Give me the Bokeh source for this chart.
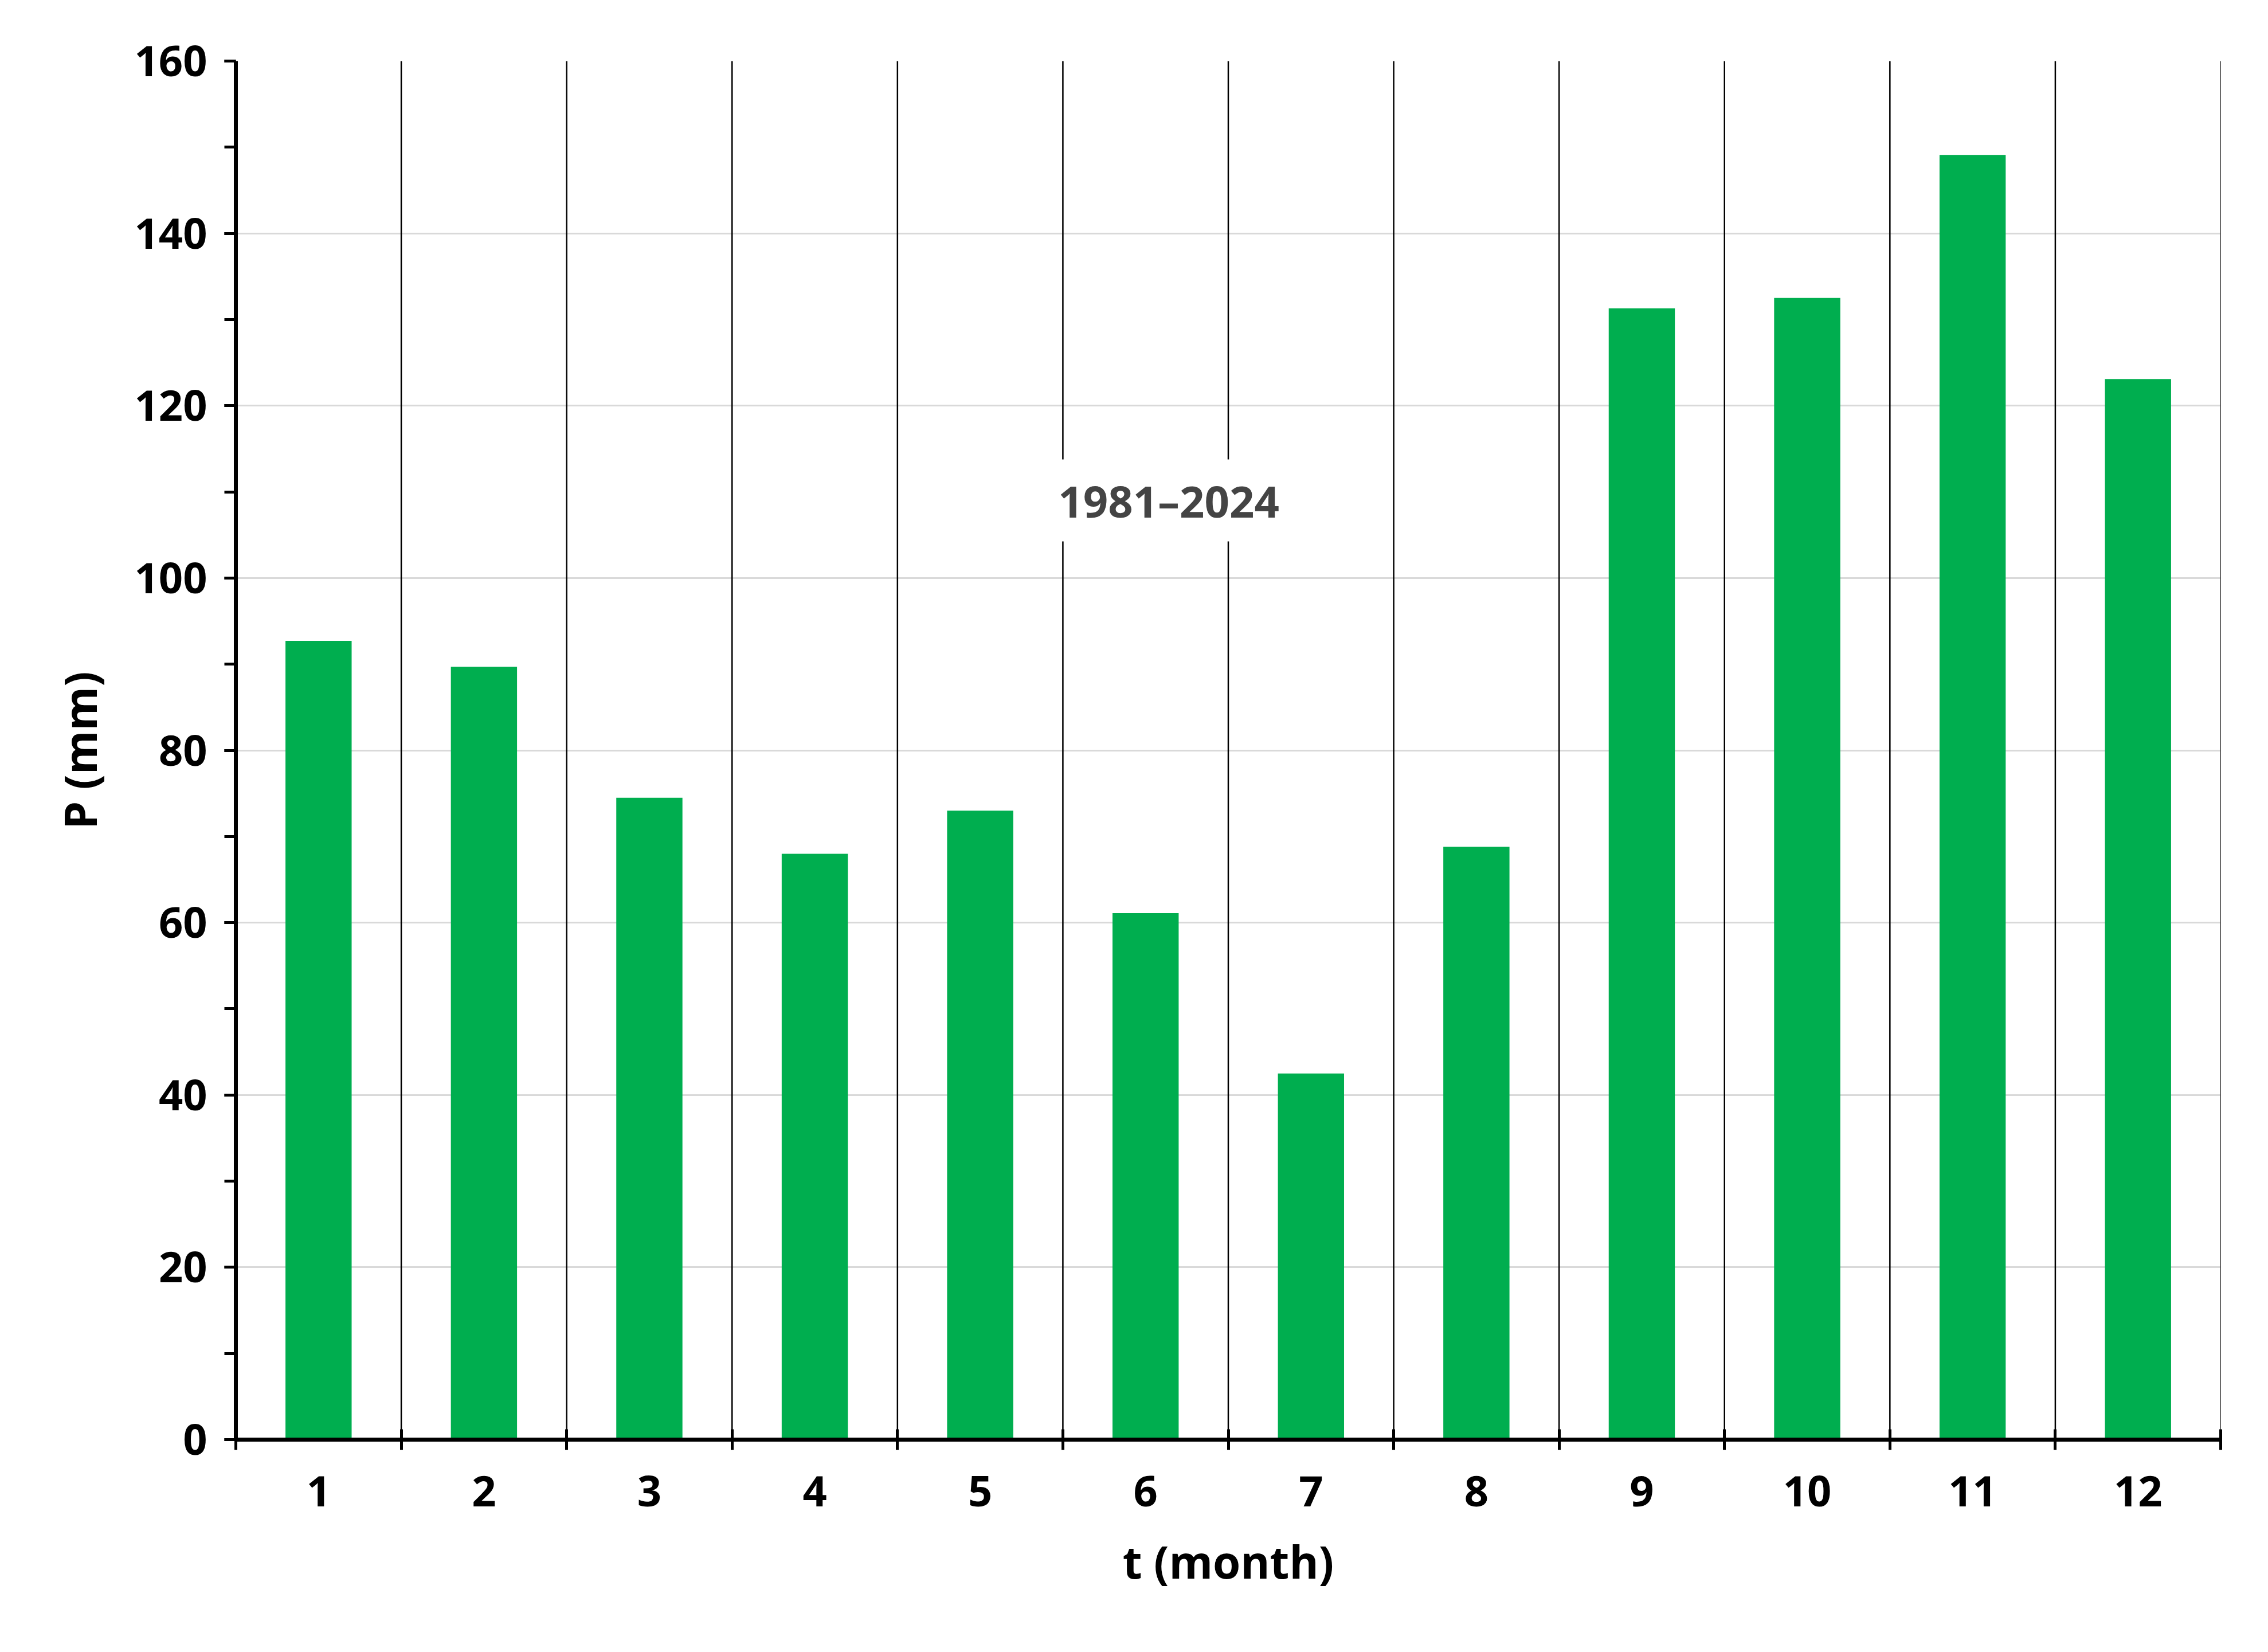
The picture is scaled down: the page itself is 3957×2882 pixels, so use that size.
from bokeh.plotting import figure
from bokeh.models import FixedTicker, Label, Range1d
from bokeh.embed import file_html
from bokeh.resources import INLINE

months = [1, 2, 3, 4, 5, 6, 7, 8, 9, 10, 11, 12]
precip = [92.7, 89.7, 74.5, 68.0, 73.0, 61.1, 42.5, 68.8, 131.3, 132.5, 149.1, 123.1]
y_ticks = [0, 20, 40, 60, 80, 100, 120, 140, 160]
period = "1981–2024"

W, H = 3935, 2860
p = figure(width=W, height=H, output_backend="svg", toolbar_location=None,
           x_range=Range1d(0.5, 12.5), y_range=Range1d(0, 160),
           min_border_left=411, min_border_right=61, min_border_top=106, min_border_bottom=349)
p.outline_line_color = None
p.background_fill_color = "white"

bounds = [m + 0.5 for m in months]
p.segment(x0=bounds, y0=[0]*12, x1=bounds, y1=[160]*12, line_color="black", line_width=2.5)
p.vbar(x=months, top=precip, width=0.4, fill_color="#00AE4F", line_color=None)

font = "Open Sans"
p.xaxis.ticker = FixedTicker(ticks=months, minor_ticks=[0.5] + bounds)
p.xaxis.major_tick_out = 0
p.xaxis.major_tick_in = 0
p.xaxis.minor_tick_out = 18
p.xaxis.minor_tick_in = 18
p.xaxis.minor_tick_line_width = 5
p.yaxis.ticker = FixedTicker(ticks=y_ticks, minor_ticks=list(range(0, 161, 10)))
p.yaxis.major_tick_out = 20
p.yaxis.major_tick_in = 0
p.yaxis.minor_tick_out = 20
p.yaxis.minor_tick_in = 0
p.yaxis.major_tick_line_width = 5
p.yaxis.minor_tick_line_width = 5
for ax in (p.xaxis, p.yaxis):
    ax.axis_line_width = 7
    ax.axis_line_color = "black"
    ax.major_label_text_font = font
    ax.major_label_text_font_style = "bold"
    ax.major_label_text_font_size = "74px"
    ax.major_label_text_color = "black"
    ax.axis_label_text_font = font
    ax.axis_label_text_font_style = "bold"
    ax.axis_label_text_font_size = "78px"
    ax.axis_label_text_color = "black"
p.xaxis.major_label_standoff = 45
p.yaxis.major_label_standoff = 30
p.xaxis.axis_label = "t (month)"
p.yaxis.axis_label = "P (mm)"
p.xaxis.axis_label_standoff = 40
p.yaxis.axis_label_standoff = 40

p.xgrid.grid_line_color = None
p.ygrid.ticker = FixedTicker(ticks=y_ticks)
p.ygrid.grid_line_color = "#D9D9D9"
p.ygrid.grid_line_width = 3

p.add_layout(Label(x=6.14, y=109, text=period, text_align="center", text_baseline="middle",
                   text_font=font, text_font_style="bold", text_font_size="76px",
                   background_fill_color="white", padding=20))

open("out.html", "w").write(file_html(p, INLINE))
